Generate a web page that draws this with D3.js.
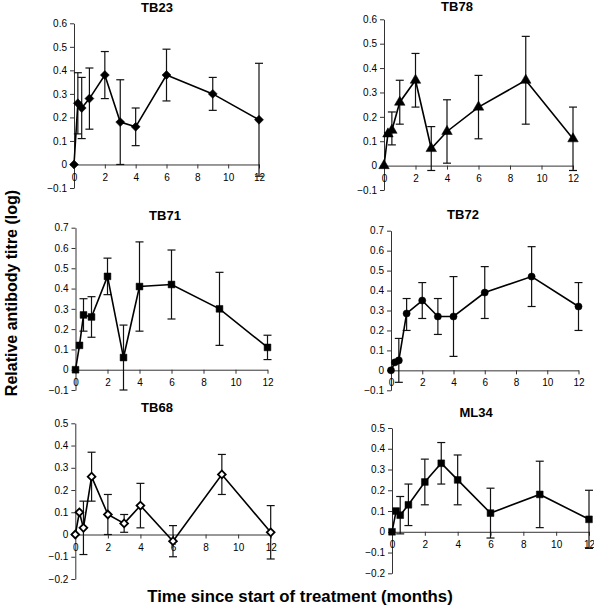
<!DOCTYPE html>
<html>
<head>
<meta charset="utf-8">
<script src="https://cdn.jsdelivr.net/npm/d3@7"></script>
<style>
  html, body { margin: 0; padding: 0; background: #fff; }
  svg { display: block; }
  text { font-family: "Liberation Sans", Arial, sans-serif; fill: #000; }
</style>
</head>
<body>
<div id="chart"></div>
<script>
// ---------- DATA ----------
const months = [0, 0.25, 0.5, 1, 2, 3, 4, 6, 9, 12];
const xTickValues = [0, 2, 4, 6, 8, 10, 12];
const panelNames = ["TB23", "TB78", "TB71", "TB72", "TB68", "ML34"];

const yTicksA = [-0.1, 0, 0.1, 0.2, 0.3, 0.4, 0.5, 0.6];
const yTicksB = [-0.1, 0, 0.1, 0.2, 0.3, 0.4, 0.5, 0.6, 0.7];
const yTicksC = [-0.2, -0.1, 0, 0.1, 0.2, 0.3, 0.4, 0.5];

const tb23Mean  = [0, 0.26, 0.24, 0.28, 0.38, 0.18, 0.16, 0.38, 0.30, 0.19];
const tb23Upper = [null, 0.39, 0.37, 0.41, 0.48, 0.36, 0.24, 0.49, 0.37, 0.43];
const tb23Lower = [null, 0.13, 0.11, 0.15, 0.28, 0.00, 0.08, 0.27, 0.23, -0.05];

const tb78Mean  = [0, 0.13, 0.145, 0.26, 0.35, 0.07, 0.14, 0.24, 0.35, 0.11];
const tb78Upper = [null, 0.135, 0.22, 0.35, 0.46, 0.16, 0.27, 0.37, 0.53, 0.24];
const tb78Lower = [null, 0.125, 0.085, 0.17, 0.24, -0.02, 0.01, 0.11, 0.17, -0.02];

const tb71Mean  = [0, 0.12, 0.27, 0.26, 0.46, 0.06, 0.41, 0.42, 0.30, 0.11];
const tb71Upper = [null, null, 0.35, 0.36, 0.55, 0.22, 0.63, 0.59, 0.48, 0.17];
const tb71Lower = [null, null, 0.19, 0.16, 0.37, -0.10, 0.19, 0.25, 0.12, 0.05];

const tb72Mean  = [0, 0.04, 0.05, 0.285, 0.35, 0.27, 0.27, 0.39, 0.47, 0.32];
const tb72Upper = [null, null, 0.16, 0.36, 0.44, 0.36, 0.47, 0.52, 0.62, 0.44];
const tb72Lower = [null, null, -0.06, 0.20, 0.26, 0.18, 0.07, 0.26, 0.32, 0.20];

const tb68Mean  = [0, 0.10, 0.03, 0.26, 0.09, 0.05, 0.13, -0.03, 0.27, 0.01];
const tb68Upper = [null, null, 0.15, 0.37, 0.18, 0.09, 0.23, 0.04, 0.36, 0.13];
const tb68Lower = [null, null, -0.09, 0.15, 0.00, 0.01, 0.03, -0.10, 0.18, -0.11];

const ml34Mean  = [0, 0.10, 0.08, 0.13, 0.24, 0.33, 0.25, 0.09, 0.18, 0.06];
const ml34Upper = [null, null, 0.17, 0.23, 0.35, 0.43, 0.37, 0.21, 0.34, 0.20];
const ml34Lower = [null, null, -0.01, 0.03, 0.13, 0.23, 0.13, -0.03, 0.02, -0.08];

const seriesMean  = [tb23Mean, tb78Mean, tb71Mean, tb72Mean, tb68Mean, ml34Mean];
const seriesUpper = [tb23Upper, tb78Upper, tb71Upper, tb72Upper, tb68Upper, ml34Upper];
const seriesLower = [tb23Lower, tb78Lower, tb71Lower, tb72Lower, tb68Lower, ml34Lower];
const seriesTicks = [yTicksA, yTicksA, yTicksB, yTicksB, yTicksC, yTicksC];

const yAxisLabel = "Relative antibody titre (log)";
const xAxisLabel = "Time since start of treatment (months)";

// ---------- LAYOUT (pixel geometry) ----------
const layout = [
  { x0: 74,  x1: 259,   yTop: 23.3,  yBot: 188,   titleX: 157, titleY: 11.5, marker: "diamond" },
  { x0: 384, x1: 573,   yTop: 19.3,  yBot: 190,   titleX: 457, titleY: 11,   marker: "triangle" },
  { x0: 75.5,x1: 267.5, yTop: 227.7, yBot: 390,   titleX: 165, titleY: 220,  marker: "square" },
  { x0: 391, x1: 578.5, yTop: 230.7, yBot: 390.3, titleX: 463, titleY: 219,  marker: "circle" },
  { x0: 75.3,x1: 270.7, yTop: 423.3, yBot: 579,   titleX: 157, titleY: 411.5,marker: "openDiamond" },
  { x0: 392, x1: 589,   yTop: 428,   yBot: 573.3, titleX: 476, titleY: 417,  marker: "square" }
];

const W = 594, H = 606;
const svg = d3.select("#chart").append("svg")
  .attr("width", W).attr("height", H)
  .attr("viewBox", `0 0 ${W} ${H}`);
svg.append("rect").attr("width", W).attr("height", H).attr("fill", "#fff");

const fmtY = v => (Math.abs(v) < 1e-9 ? "0" : d3.format(".1f")(v));

function markerPath(kind) {
  if (kind === "triangle") return d3.symbol(d3.symbolTriangle, 48)();
  if (kind === "circle") return d3.symbol(d3.symbolCircle, 40)();
  if (kind === "square") return d3.symbol(d3.symbolSquare, 46)();
  if (kind === "openDiamond") return d3.symbol(d3.symbolSquare, 30)();
  return d3.symbol(d3.symbolSquare, 40)(); // diamond: rotated square
}

panelNames.forEach((name, i) => {
  const L = layout[i];
  const ticks = seriesTicks[i];
  const x = d3.scaleLinear().domain([0, 12]).range([L.x0, L.x1]);
  const y = d3.scaleLinear().domain([d3.min(ticks), d3.max(ticks)]).range([L.yBot, L.yTop]);
  const g = svg.append("g");

  // Y axis
  const yAxis = d3.axisLeft(y).tickValues(ticks).tickFormat(fmtY).tickSize(4).tickPadding(3).tickSizeOuter(0);
  const gy = g.append("g").attr("transform", `translate(${L.x0},0)`).call(yAxis);
  gy.select(".domain").attr("stroke", "#333").attr("stroke-width", 1);
  gy.selectAll(".tick line").attr("stroke", "#333");
  gy.selectAll(".tick text").attr("font-size", 10).attr("font-family", "Liberation Sans, Arial, sans-serif").attr("fill", "#111");

  // X axis at y = 0
  const xAxis = d3.axisBottom(x).tickValues(xTickValues).tickFormat(d3.format("d")).tickSize(4).tickPadding(5).tickSizeOuter(0);
  const gx = g.append("g").attr("transform", `translate(0,${y(0)})`).call(xAxis);
  gx.select(".domain").attr("stroke", "#333").attr("stroke-width", 1);
  gx.selectAll(".tick line").attr("stroke", "#333");
  gx.selectAll(".tick text").attr("font-size", 10).attr("font-family", "Liberation Sans, Arial, sans-serif").attr("fill", "#111");

  // Title
  g.append("text").attr("x", L.titleX).attr("y", L.titleY)
    .attr("text-anchor", "middle").attr("font-size", 13).attr("font-weight", "bold")
    .text(name);

  const mean = seriesMean[i], up = seriesUpper[i], lo = seriesLower[i];
  const pts = months.map((m, k) => ({ m, v: mean[k], hi: up[k], lo: lo[k] }));

  // Error bars
  const eb = g.append("g").attr("stroke", "#111").attr("stroke-width", 1.2);
  pts.filter(p => p.hi != null && p.lo != null).forEach(p => {
    eb.append("line").attr("x1", x(p.m)).attr("x2", x(p.m)).attr("y1", y(p.hi)).attr("y2", y(p.lo));
    eb.append("line").attr("x1", x(p.m) - 4).attr("x2", x(p.m) + 4).attr("y1", y(p.hi)).attr("y2", y(p.hi));
    eb.append("line").attr("x1", x(p.m) - 4).attr("x2", x(p.m) + 4).attr("y1", y(p.lo)).attr("y2", y(p.lo));
  });

  // Line
  g.append("path").datum(pts)
    .attr("fill", "none").attr("stroke", "#000").attr("stroke-width", 1.6)
    .attr("d", d3.line().x(p => x(p.m)).y(p => y(p.v)));

  // Markers
  const isDiamond = L.marker === "diamond" || L.marker === "openDiamond";
  g.append("g").selectAll("path").data(pts).join("path")
    .attr("d", markerPath(L.marker))
    .attr("transform", p => `translate(${x(p.m)},${y(p.v)})` + (isDiamond ? " rotate(45)" : ""))
    .attr("fill", L.marker === "openDiamond" ? "#fff" : "#000")
    .attr("stroke", "#000")
    .attr("stroke-width", L.marker === "openDiamond" ? 1.8 : 0.5);
});

// Axis titles
svg.append("text")
  .attr("transform", "translate(17,293) rotate(-90)")
  .attr("text-anchor", "middle").attr("font-size", 16).attr("font-weight", "bold")
  .text(yAxisLabel);

svg.append("text")
  .attr("x", 300).attr("y", 602)
  .attr("text-anchor", "middle").attr("font-size", 16.8).attr("font-weight", "bold")
  .text(xAxisLabel);
</script>
</body>
</html>
